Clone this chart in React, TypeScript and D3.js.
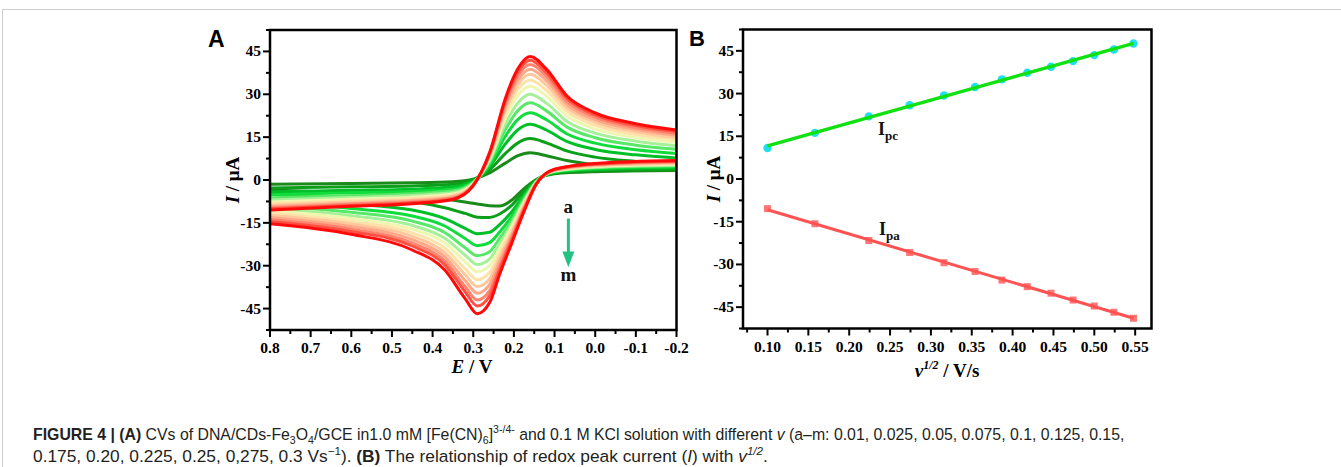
import React, { useLayoutEffect, useRef, useState } from 'react';
import * as d3 from 'd3';

const W = 1341;
const H = 467;

// ---- Panel A: cyclic voltammograms (a..m), sampled on two potential grids
const fwdE = [0.8, 0.6, 0.45, 0.35, 0.3, 0.26, 0.22, 0.19, 0.16, 0.12, 0.07, 0.0, -0.1, -0.2];
const revE = [0.8, 0.6, 0.45, 0.37, 0.32, 0.29, 0.26, 0.235, 0.205, 0.175, 0.145, 0.1, 0.0, -0.2];

const cvNames = ['a', 'b', 'c', 'd', 'e', 'f', 'g', 'h', 'i', 'j', 'k', 'l', 'm'];
const cvColors = [
  '#1a8a1a', '#0ca01a', '#00c02a', '#10dd3c', '#58e868', '#a6f09a', '#eef6b0',
  '#ffe2aa', '#ffc89c', '#ffa888', '#ff8470', '#ff5040', '#ff0a0a',
];

// branch with the cathodic (positive) peak
const cvForward = [
  [-1.5, -1.2, -1.0, -0.6, 0.3, 2.5, 6.0, 8.5, 9.5, 8.5, 6.8, 5.3, 4.2, 3.5],
  [-2.8, -2.4, -2.1, -1.5, 0.0, 3.5, 9.4, 13.0, 14.5, 13.0, 10.2, 8.0, 6.5, 5.6],
  [-4.2, -3.6, -3.2, -2.4, -0.4, 4.6, 12.8, 17.6, 19.5, 17.5, 13.5, 10.7, 8.8, 7.7],
  [-5.2, -4.5, -4.0, -3.2, -0.7, 5.4, 15.5, 21.2, 23.5, 21.1, 16.2, 12.9, 10.6, 9.3],
  [-6.2, -5.4, -4.8, -3.8, -0.9, 6.1, 17.9, 24.3, 27.0, 24.2, 18.6, 14.8, 12.2, 10.8],
  [-7.0, -6.1, -5.4, -4.4, -1.1, 6.8, 20.0, 27.0, 30.0, 26.9, 20.6, 16.4, 13.6, 12.0],
  [-7.7, -6.7, -6.0, -4.9, -1.3, 7.3, 21.9, 29.6, 32.8, 29.4, 22.5, 17.9, 14.9, 13.2],
  [-8.3, -7.3, -6.5, -5.3, -1.4, 7.8, 23.4, 31.6, 35.0, 31.4, 24.0, 19.1, 15.9, 14.1],
  [-8.8, -7.7, -7.0, -5.7, -1.6, 8.2, 24.8, 33.4, 37.0, 33.2, 25.3, 20.2, 16.9, 14.9],
  [-9.3, -8.2, -7.3, -6.0, -1.7, 8.6, 26.0, 35.0, 38.8, 34.8, 26.5, 21.1, 17.7, 15.7],
  [-9.8, -8.5, -7.7, -6.3, -1.8, 8.9, 27.1, 36.5, 40.4, 36.3, 27.6, 22.0, 18.4, 16.3],
  [-10.1, -8.9, -8.0, -6.6, -1.9, 9.2, 28.1, 37.8, 41.9, 37.6, 28.6, 22.8, 19.1, 17.0],
  [-10.5, -9.2, -8.3, -6.8, -2.0, 9.5, 29.0, 39.0, 43.2, 38.8, 29.5, 23.5, 19.7, 17.5],
];

// branch with the anodic (negative) peak
const cvReverse = [
  [-3.5, -4.5, -5.3, -6.7, -7.7, -8.4, -9.0, -9.1, -7.0, -3.0, 0.2, 2.2, 2.9, 3.3],
  [-4.9, -6.2, -7.6, -9.7, -11.7, -13.0, -13.1, -11.9, -8.8, -4.0, 0.0, 2.4, 3.3, 3.7],
  [-6.7, -8.4, -10.5, -13.5, -16.9, -18.8, -18.3, -15.6, -11.1, -5.2, -0.3, 2.6, 3.7, 4.3],
  [-8.0, -10.0, -12.6, -16.1, -20.5, -23.0, -21.9, -18.2, -12.7, -6.0, -0.4, 2.8, 4.0, 4.6],
  [-9.1, -11.3, -14.4, -18.4, -23.7, -26.5, -25.1, -20.4, -14.1, -6.8, -0.6, 3.0, 4.3, 5.0],
  [-10.0, -12.5, -15.9, -20.4, -26.3, -29.6, -27.7, -22.3, -15.3, -7.4, -0.7, 3.1, 4.5, 5.2],
  [-10.8, -13.5, -17.2, -22.0, -28.6, -32.1, -30.0, -23.9, -16.3, -7.9, -0.9, 3.2, 4.7, 5.5],
  [-11.6, -14.5, -18.5, -23.8, -31.0, -34.9, -32.4, -25.6, -17.3, -8.5, -1.0, 3.3, 4.9, 5.7],
  [-12.4, -15.4, -19.7, -25.4, -33.1, -37.3, -34.6, -27.1, -18.3, -9.0, -1.1, 3.4, 5.1, 5.9],
  [-13.1, -16.3, -20.9, -26.9, -35.2, -39.6, -36.6, -28.5, -19.2, -9.5, -1.2, 3.5, 5.3, 6.2],
  [-13.8, -17.2, -22.1, -28.4, -37.3, -42.0, -38.8, -30.0, -20.1, -10.0, -1.3, 3.6, 5.4, 6.4],
  [-14.5, -18.0, -23.1, -29.7, -39.1, -44.1, -40.6, -31.3, -20.9, -10.4, -1.4, 3.7, 5.6, 6.6],
  [-15.3, -19.0, -24.5, -31.5, -41.5, -46.8, -43.0, -33.0, -22.0, -11.0, -1.5, 3.8, 5.8, 6.8],
];

const xTicksA = [0.8, 0.7, 0.6, 0.5, 0.4, 0.3, 0.2, 0.1, 0.0, -0.1, -0.2];
const xMinorA = [0.75, 0.65, 0.55, 0.45, 0.35, 0.25, 0.15, 0.05, -0.05, -0.15];
const yTicks = [-45, -30, -15, 0, 15, 30, 45];
const yMinor = [-52.5, -37.5, -22.5, -7.5, 7.5, 22.5, 37.5, 52.5];

// ---- Panel B: peak currents vs square root of scan rate
const sqrtV = [0.1, 0.158, 0.224, 0.274, 0.316, 0.354, 0.387, 0.418, 0.447, 0.474, 0.5, 0.524, 0.548];
const ipc = [10.9, 16.2, 22.0, 25.9, 29.3, 32.3, 35.0, 37.3, 39.4, 41.4, 43.5, 45.5, 47.6];
const ipa = [-10.4, -15.7, -21.6, -25.8, -29.4, -32.5, -35.5, -37.8, -40.1, -42.5, -44.6, -46.8, -48.9];

const xTicksB = [0.1, 0.15, 0.2, 0.25, 0.3, 0.35, 0.4, 0.45, 0.5, 0.55];
const xMinorB = [0.075, 0.125, 0.175, 0.225, 0.275, 0.325, 0.375, 0.425, 0.475, 0.525];

const SERIF = '"Liberation Serif", "Times New Roman", serif';
const SANS = '"Liberation Sans", Arial, sans-serif';

// least squares fit for the straight lines in B
function fit(xs, ys) {
  const mx = d3.mean(xs), my = d3.mean(ys);
  let sxy = 0, sxx = 0;
  xs.forEach((x, i) => { sxy += (x - mx) * (ys[i] - my); sxx += (x - mx) * (x - mx); });
  const k = sxy / sxx;
  return (x) => my + k * (x - mx);
}

function Frame({ x, y, xMajor, xMinor, xFmt }) {
  const [xl, xr] = x.range();
  const [yb, yt] = y.range();
  return (
    <g fontFamily={SERIF} fontWeight="bold" fontSize={15.5}>
      {xMinor.map((v) => (
        <line key={'xm' + v} x1={x(v)} x2={x(v)} y1={yb} y2={yb + 4} stroke="#000" strokeWidth={2} />
      ))}
      {xMajor.map((v) => (
        <g key={'x' + v}>
          <line x1={x(v)} x2={x(v)} y1={yb} y2={yb + 7} stroke="#000" strokeWidth={2} />
          <text x={x(v)} y={yb + 23} textAnchor="middle">{xFmt(v)}</text>
        </g>
      ))}
      {yMinor.map((v) => (
        <line key={'ym' + v} x1={xl - 4} x2={xl} y1={y(v)} y2={y(v)} stroke="#000" strokeWidth={2} />
      ))}
      {yTicks.map((v) => (
        <g key={'y' + v}>
          <line x1={xl - 7} x2={xl} y1={y(v)} y2={y(v)} stroke="#000" strokeWidth={2} />
          <text x={xl - 9} y={y(v) + 5} textAnchor="end">{String(v)}</text>
        </g>
      ))}
      <rect x={xl} y={yt} width={xr - xl} height={yb - yt} fill="none" stroke="#000" strokeWidth={2.5} />
    </g>
  );
}

// caption line squeezed horizontally to the width it has in the figure
function CaptionLine({ x, y, width, children }) {
  const ref = useRef(null);
  const [sx, setSx] = useState(0.86);
  useLayoutEffect(() => {
    if (!ref.current) return;
    const w = ref.current.getBBox().width;
    if (w > 0) setSx(width / w);
  }, [width]);
  return (
    <g transform={`translate(${x},${y}) scale(${sx},1)`}>
      <text ref={ref} x={0} y={0}>{children}</text>
    </g>
  );
}

export default function App() {
  // scales
  const xA = d3.scaleLinear().domain([0.8, -0.2]).range([270, 676.5]);
  const yA = d3.scaleLinear().domain([-52.5, 52.5]).range([330, 30]);
  const xB = d3.scaleLinear().domain([0.07, 0.57]).range([743, 1151.5]);
  const yB = d3.scaleLinear().domain([-52.5, 52.5]).range([328.5, 29.5]);

  const cvLine = d3.line().x((d) => xA(d[0])).y((d) => yA(d[1])).curve(d3.curveMonotoneX);

  const fitC = fit(sqrtV, ipc);
  const fitA = fit(sqrtV, ipa);
  const x0 = sqrtV[0], x1 = sqrtV[sqrtV.length - 1];

  const fmtA = (v) => (Math.abs(v) < 1e-9 ? '0.0' : v.toFixed(1));
  const fmtB = (v) => v.toFixed(2);

  const arrowX = xA(0.066);

  return (
    <svg width={W} height={H} style={{ position: 'absolute', left: 0, top: 0, background: '#fff' }}>
      <defs>
        <clipPath id="clipA">
          <rect x={270} y={30} width={406.5} height={300} />
        </clipPath>
      </defs>

      {/* figure border */}
      <line x1={2.5} x2={2.5} y1={9.5} y2={H} stroke="#cfcfcf" strokeWidth={1} />
      <line x1={2.5} x2={W} y1={9.5} y2={9.5} stroke="#cfcfcf" strokeWidth={1} />

      {/* ---------- Panel A ---------- */}
      <g clipPath="url(#clipA)" fill="none" strokeWidth={3} strokeLinejoin="round">
        {cvNames.map((n, i) => (
          <g key={n} stroke={cvColors[i]}>
            <path d={cvLine(revE.map((e, j) => [e, cvReverse[i][j]]))} />
            <path d={cvLine(fwdE.map((e, j) => [e, cvForward[i][j]]))} />
          </g>
        ))}
      </g>
      <Frame x={xA} y={yA} xMajor={xTicksA} xMinor={xMinorA} xFmt={fmtA} />

      <g fontFamily={SERIF} fontWeight="bold" fontSize={19} fill="#111">
        <text x={arrowX} y={yA(-11.5)} textAnchor="middle">a</text>
        <text x={arrowX} y={yA(-35.5)} textAnchor="middle">m</text>
      </g>
      <line x1={arrowX} x2={arrowX} y1={yA(-13.5)} y2={yA(-26)} stroke="#22c283" strokeWidth={3} />
      <path
        d={`M${arrowX - 6},${yA(-25)} L${arrowX + 6},${yA(-25)} L${arrowX},${yA(-30.5)} Z`}
        fill="#22c283"
      />

      <text x={208} y={47} fontFamily={SANS} fontWeight="bold" fontSize={23}>A</text>
      <text x={472} y={373} textAnchor="middle" fontFamily={SERIF} fontWeight="bold" fontSize={19}>
        <tspan fontStyle="italic">E</tspan> / V
      </text>
      <text
        transform={`translate(239,${yA(0)}) rotate(-90)`}
        textAnchor="middle"
        fontFamily={SERIF}
        fontWeight="bold"
        fontSize={19}
      >
        <tspan fontStyle="italic">I</tspan> / μA
      </text>

      {/* ---------- Panel B ---------- */}
      <Frame x={xB} y={yB} xMajor={xTicksB} xMinor={xMinorB} xFmt={fmtB} />
      <g>
        {sqrtV.map((v, i) => (
          <circle key={'c' + i} cx={xB(v)} cy={yB(ipc[i])} r={4.2} fill="#22dff0" />
        ))}
        {sqrtV.map((v, i) => (
          <rect key={'s' + i} x={xB(v) - 3.5} y={yB(ipa[i]) - 3.5} width={7} height={7} fill="#ff7878" />
        ))}
        <line x1={xB(x0)} x2={xB(x1)} y1={yB(fitC(x0))} y2={yB(fitC(x1))} stroke="#11e011" strokeWidth={3.5} />
        <line x1={xB(x0)} x2={xB(x1)} y1={yB(fitA(x0))} y2={yB(fitA(x1))} stroke="#ff5252" strokeWidth={3} />
      </g>

      <g fontFamily={SERIF} fontWeight="bold" fill="#111">
        <text x={878} y={135} fontSize={18}>
          I<tspan fontSize={13} dy={5}>pc</tspan>
        </text>
        <text x={879} y={235} fontSize={18}>
          I<tspan fontSize={13} dy={5}>pa</tspan>
        </text>
      </g>

      <text x={689} y={46} fontFamily={SANS} fontWeight="bold" fontSize={22}>B</text>
      <text x={947} y={377} textAnchor="middle" fontFamily={SERIF} fontWeight="bold" fontSize={19}>
        <tspan fontStyle="italic">v</tspan>
        <tspan fontStyle="italic" fontSize={12} dy={-8}>1/2</tspan>
        <tspan dy={8}> / V/s</tspan>
      </text>
      <text
        transform={`translate(720,${yB(0)}) rotate(-90)`}
        textAnchor="middle"
        fontFamily={SERIF}
        fontWeight="bold"
        fontSize={19}
      >
        <tspan fontStyle="italic">I</tspan> / μA
      </text>

      {/* ---------- Caption ---------- */}
      <g fontFamily={SANS} fontSize={16.5} fill="#231f20">
        <CaptionLine x={33} y={440} width={1092}>
          <tspan fontWeight="bold">FIGURE 4 | (A)</tspan> CVs of DNA/CDs-Fe
          <tspan fontSize={11} dy={4}>3</tspan>
          <tspan dy={-4}>O</tspan>
          <tspan fontSize={11} dy={4}>4</tspan>
          <tspan dy={-4}>/GCE in1.0 mM [Fe(CN)</tspan>
          <tspan fontSize={11} dy={4}>6</tspan>
          <tspan dy={-4}>]</tspan>
          <tspan fontSize={11} dy={-7}>3-/4-</tspan>
          <tspan dy={7}> and 0.1 M KCl solution with different </tspan>
          <tspan fontStyle="italic">v</tspan> (a–m: 0.01, 0.025, 0.05, 0.075, 0.1, 0.125, 0.15,
        </CaptionLine>
        <CaptionLine x={33} y={461.5} width={735}>
          0.175, 0.20, 0.225, 0.25, 0,275, 0.3 Vs
          <tspan fontSize={11} dy={-7}>−1</tspan>
          <tspan dy={7}>). </tspan>
          <tspan fontWeight="bold">(B)</tspan> The relationship of redox peak current (
          <tspan fontStyle="italic">I</tspan>) with <tspan fontStyle="italic">v</tspan>
          <tspan fontStyle="italic" fontSize={11} dy={-7}>1/2</tspan>
          <tspan dy={7}>.</tspan>
        </CaptionLine>
      </g>
    </svg>
  );
}
